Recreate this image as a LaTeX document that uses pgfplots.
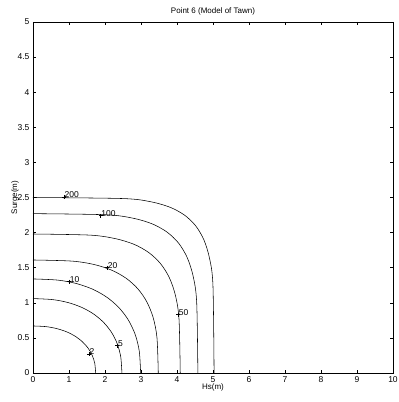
\documentclass[border=0pt]{standalone}
\usepackage{fontspec}
\setmainfont{Liberation Sans}
\usepackage{pgfplots}
\pgfplotsset{compat=1.18}
\begin{document}
\begin{tikzpicture}
\begin{axis}[name=ax, width=360pt, height=351pt, scale only axis,
  xmin=0, xmax=10, ymin=0, ymax=5,
  xtick={0,1,...,10}, ytick={0,0.5,...,5},
  tick align=inside, major tick length=3pt,
  axis line style={line width=0.6pt},
  tick style={line width=0.5pt, black},
  every tick label/.append style={font=\fontsize{8.5}{9}\selectfont},
  /pgf/number format/assume math mode=true,
  title={Point 6 (Model of Tawn)},
  title style={font=\fontsize{8}{9}\selectfont, yshift=-3pt},
  xlabel={Hs(m)}, ylabel={Surge(m)},
  label style={font=\fontsize{8}{9}\selectfont},
  xlabel style={yshift=6pt},
  ylabel style={yshift=-8pt},
  every axis plot/.append style={black, line width=0.55pt},
]
% contour 2
\addplot[smooth] coordinates {(1.74,0) (1.716,0.136) (1.644,0.253) (1.527,0.357) (1.366,0.448) (1.164,0.526) (0.927,0.588) (0.656,0.633) (0.354,0.661) (0,0.67)};
% contour 5
\addplot[smooth] coordinates {(2.47,0) (2.437,0.231) (2.340,0.417) (2.180,0.580) (1.959,0.722) (1.682,0.841) (1.352,0.935) (0.971,1.004) (0.539,1.046) (0,1.06)};
% contour 10
\addplot[smooth] coordinates {(2.99,0) (2.952,0.311) (2.839,0.548) (2.652,0.752) (2.394,0.927) (2.069,1.073) (1.678,1.189) (1.223,1.272) (0.695,1.323) (0,1.34)};
% contour 20
\addplot[smooth] coordinates {(3.48,0) (3.444,0.501) (3.339,0.787) (3.162,1.014) (2.913,1.199) (2.592,1.348) (2.192,1.463) (1.702,1.545) (1.083,1.594) (0,1.61)};
% contour 50
\addplot[smooth] coordinates {(4.09,0) (4.056,0.768) (3.955,1.109) (3.784,1.361) (3.541,1.559) (3.221,1.714) (2.812,1.832) (2.290,1.914) (1.587,1.964) (0,1.98)};
% contour 100
\addplot[smooth] coordinates {(4.58,0) (4.547,1.005) (4.449,1.378) (4.284,1.644) (4.046,1.849) (3.729,2.005) (3.318,2.123) (2.781,2.205) (2.028,2.254) (0,2.27)};
% contour 200
\addplot[smooth] coordinates {(5.03,0) (4.999,1.241) (4.906,1.628) (4.749,1.895) (4.521,2.095) (4.215,2.247) (3.812,2.360) (3.275,2.439) (2.497,2.485) (0,2.5)};
% contour labels
\addplot[only marks, mark=+, mark size=2pt,
  point meta=explicit symbolic,
  nodes near coords,
  nodes near coords style={anchor=south west, inner sep=0.5pt, font=\fontsize{8.5}{9}\selectfont, xshift=0pt, yshift=-1.5pt}]
  coordinates {(1.55,0.27) [2] (2.34,0.39) [5] (1.0,1.30) [10] (2.06,1.50) [20] (4.03,0.83) [50] (1.88,2.24) [100] (0.86,2.51) [200]};
\end{axis}
\pgfresetboundingbox
\path ([xshift=-33pt,yshift=-29pt]ax.south west) rectangle ([xshift=6pt,yshift=22pt]ax.north east);
\end{tikzpicture}
\end{document}
